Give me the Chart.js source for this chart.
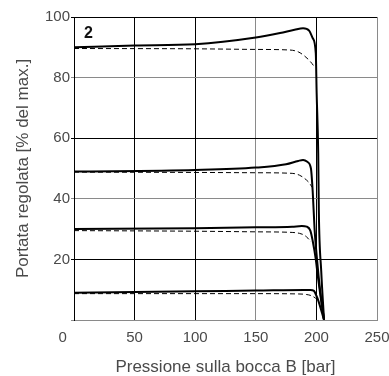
<!DOCTYPE html>
<html>
<head>
<meta charset="utf-8">
<script src="https://cdn.jsdelivr.net/npm/chart.js@4/dist/chart.umd.min.js"></script>
<style>
html,body{margin:0;padding:0;background:#fff;}
canvas{display:block;}
</style>
</head>
<body>
<canvas id="c" width="389" height="376"></canvas>
<script>
// Pressure [bar] (x) and regulated flow [% of max] (y)
const xS1 = [0, 50, 100, 150, 170, 182, 189, 194, 197, 199.5, 200.2, 201.5, 202, 204, 206.3];
const yS1 = [90, 90.6, 91, 93.2, 94.7, 95.8, 96.3, 95.5, 93, 88, 75, 55, 36, 16, 0];
const xD1 = [0, 100, 150, 178, 185, 190, 195, 198.5];
const yD1 = [89.6, 89.5, 89.3, 89.1, 88.5, 87.2, 85.3, 83.5];

const xS2 = [0, 100, 150, 175, 185, 189, 192.5, 195.5, 197, 198.5, 200.5, 203, 206.3];
const yS2 = [49, 49.5, 50.3, 51.4, 52.5, 52.8, 52.2, 50, 42, 30, 20, 10, 0];
const xD2 = [0, 100, 150, 180, 186, 190, 194, 196.5];
const yD2 = [48.8, 48.7, 48.6, 48.4, 47.8, 46.8, 45.3, 43.8];

const xS3 = [0, 100, 150, 180, 188, 192, 195, 197, 199.5, 201, 203, 206.3];
const yS3 = [30, 30.3, 30.6, 30.8, 31, 30.8, 29.5, 26, 20, 15, 9, 0];
const xD3 = [0, 100, 150, 180, 186, 190, 193, 195.5];
const yD3 = [29.5, 29.3, 29.1, 28.9, 28.6, 28.0, 27.0, 25.8];

const xS4 = [0, 100, 150, 190, 195, 198, 200, 201.5, 206.3];
const yS4 = [9, 9.5, 9.7, 9.9, 9.9, 9.6, 8, 6.5, 0];
const xD4 = [0, 100, 150, 185, 192, 196, 199, 200.5];
const yD4 = [8.7, 8.7, 8.7, 8.6, 8.4, 8.0, 7.3, 6.8];

const xTicks = [0, 50, 100, 150, 200, 250];
const yTicks = [0, 20, 40, 60, 80, 100];
const panelLabel = '2';
const xTitle = 'Pressione sulla bocca B [bar]';
const yTitle = 'Portata regolata [% del max.]';

const pts = (xs, ys) => xs.map((x, i) => ({x: x, y: ys[i]}));
const solid = (xs, ys) => ({data: pts(xs, ys), borderColor: '#000', borderWidth: 2, pointRadius: 0, fill: false, cubicInterpolationMode: 'monotone'});
const dashed = (xs, ys) => ({data: pts(xs, ys), borderColor: '#000', borderWidth: 1, borderDash: [5, 3], pointRadius: 0, fill: false, cubicInterpolationMode: 'monotone'});

const FONT = "'Liberation Sans', Arial, sans-serif";
const TXT = '#4a4a4a';
const GRAY = '#8a8a8a';

const labelPlugin = {
  id: 'panelLabel',
  afterDraw(chart) {
    const a = chart.chartArea;
    const ctx = chart.ctx;
    ctx.save();
    ctx.font = "bold 16px " + FONT;
    ctx.fillStyle = '#111';
    ctx.textBaseline = 'alphabetic';
    ctx.textAlign = 'left';
    ctx.fillText(panelLabel, a.left + 10, a.top + 21);
    ctx.restore();
  }
};

new Chart(document.getElementById('c'), {
  type: 'line',
  data: {
    datasets: [
      dashed(xD1, yD1), solid(xS1, yS1),
      dashed(xD2, yD2), solid(xS2, yS2),
      dashed(xD3, yD3), solid(xS3, yS3),
      dashed(xD4, yD4), solid(xS4, yS4)
    ]
  },
  options: {
    responsive: false,
    animation: false,
    devicePixelRatio: 1,
    layout: {padding: {left: 0, right: 0, top: 17, bottom: 0}},
    plugins: {legend: {display: false}, tooltip: {enabled: false}},
    scales: {
      x: {
        type: 'linear',
        min: xTicks[0], max: xTicks[xTicks.length - 1],
        afterBuildTicks: s => { s.ticks = xTicks.map(v => ({value: v})); },
        afterFit: s => { s.height = 56; s.paddingRight = 12; s.paddingLeft = 0; },
        grid: {
          drawTicks: false,
          lineWidth: 1,
          color: c => (c.tick && (c.tick.value === 150 || c.tick.value === 250)) ? GRAY : '#000'
        },
        border: {color: GRAY, width: 1},
        ticks: {
          font: {family: FONT, size: 15}, color: TXT, padding: 9, maxRotation: 0,
          callback: v => v === 0 ? '0\u2002\u2002\u2002' : String(v)
        },
        title: {display: true, text: xTitle, font: {family: FONT, size: 17}, color: TXT, padding: {top: 0, bottom: -2}}
      },
      y: {
        type: 'linear',
        min: yTicks[0], max: yTicks[yTicks.length - 1],
        afterBuildTicks: s => { s.ticks = yTicks.map(v => ({value: v})); },
        afterFit: s => { s.width = 74; },
        grid: {
          drawTicks: true,
          tickLength: 3,
          lineWidth: 1,
          color: c => (c.tick && (c.tick.value === 0 || c.tick.value === 40 || c.tick.value === 80)) ? GRAY : '#000'
        },
        border: {color: '#000', width: 1},
        ticks: {font: {family: FONT, size: 15}, color: TXT, padding: 1, callback: v => v === 0 ? '' : String(v)},
        title: {display: true, text: yTitle, font: {family: FONT, size: 17}, color: TXT, padding: {top: 13, bottom: 0}}
      }
    }
  },
  plugins: [labelPlugin]
});
</script>
</body>
</html>
